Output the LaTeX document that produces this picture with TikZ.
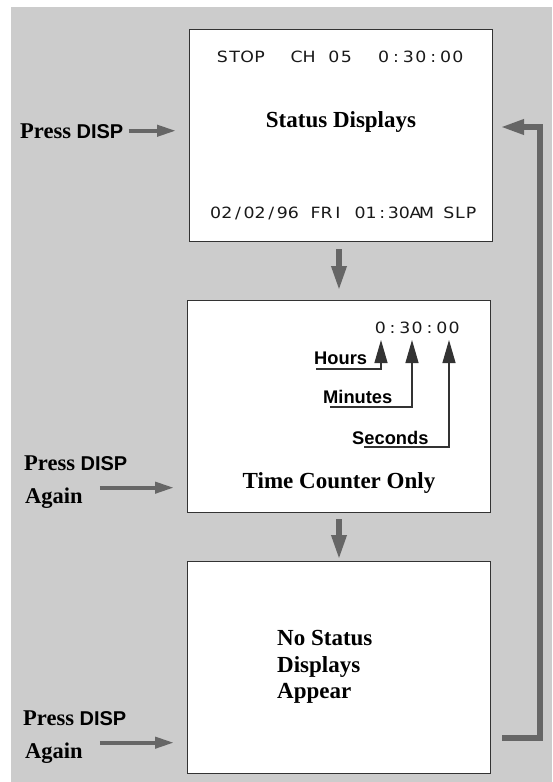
\documentclass[tikz,border=0pt]{standalone}
\usepackage{fontspec}
\usepackage{graphicx}
\setmainfont{Liberation Serif}
\newfontfamily\arialf{Liberation Sans}
\newfontfamily\monof{DejaVu Sans}
\usetikzlibrary{arrows.meta}
\definecolor{bgc}{HTML}{CCCCCC}
\definecolor{arrc}{HTML}{666666}
\definecolor{edgec}{HTML}{333333}
\newcommand\pitchline[2]{\def\mypitch{#1}\pitchlinei#2\relax}
\def\pitchlinei#1{\ifx\relax#1\else\makebox[\mypitch][c]{\scalebox{1.12}[1]{#1}}\expandafter\pitchlinei\fi}
\tikzset{
  screen/.style={draw=edgec, line width=1pt, fill=white, minimum width=303pt, minimum height=212pt, anchor=north west, inner sep=0},
  serifb/.style={font=\fontsize{23}{27}\selectfont\bfseries, inner sep=0},
  lab/.style={font=\fontsize{22.5}{27}\selectfont\bfseries, inner sep=0, anchor=base west},
  monotext/.style={font=\monof\fontsize{15.5}{18}\selectfont, text=black!90, inner sep=0, anchor=base west},
  tiny/.style={font=\arialf\fontsize{18.3}{22}\selectfont\bfseries, inner sep=0, anchor=base west},
  bigarrow/.style={draw=arrc, line width=6pt, -{Triangle[length=25pt,width=14pt]}},
  smallarrow/.style={draw=arrc, line width=4pt, -{Triangle[length=19pt,width=11pt]}},
  ptr/.style={draw=edgec, line width=1.2pt, -{Triangle[length=23pt,width=13pt]}},
}
\newcommand\disp{{\arialf\fontsize{20}{24}\selectfont DISP}}
\begin{document}
\begin{tikzpicture}[x=1pt,y=-1pt]
\useasboundingbox (0,0) rectangle (552,782);
\fill[bgc] (11,7) rectangle (552,782);
% screens
\node[screen] (b1) at (189,29) {};
\node[screen] (b2) at (187,300) {};
\node[screen] (b3) at (187,561) {};
% screen 1
\node[monotext] (m1) at (216,62) {\pitchline{12.4pt}{STOP~~CH~05~~0:30:00}};
\node[serifb, anchor=base] (t1) at (341,127) {Status Displays};
\node[monotext] (m2) at (210,218) {\pitchline{11.1pt}{02/02/96~FRI~01:30AM~SLP}};
% screen 2
\node[monotext] (m3) at (374,333) {\pitchline{12.3pt}{0:30:00}};
\coordinate (th) at (381,340);
\coordinate (tm) at (412,340);
\coordinate (ts) at (449,340);
\node[tiny] (hrs) at (314,364) {Hours};
\node[tiny] (mins) at (323,403) {Minutes};
\node[tiny] (secs) at (352,444) {Seconds};
\draw[ptr] ([xshift=2pt,yshift=-5pt]hrs.base west) -| (th);
\draw[ptr] ([xshift=7pt,yshift=-4pt]mins.base west) -| (tm);
\draw[ptr] ([xshift=12pt,yshift=-3pt]secs.base west) -| (ts);
\node[serifb, anchor=base] (t2) at (339,488) {Time Counter Only};
% screen 3
\node[serifb, anchor=base west] (t3a) at (277,645) {No Status};
\node[serifb, anchor=base west] (t3b) at (277,672) {Displays};
\node[serifb, anchor=base west] (t3c) at (277,698) {Appear};
% left labels
\node[lab] (p1) at (20,138) {Press \disp};
\node[lab] (p2a) at (24,470) {Press \disp};
\node[lab] (p2b) at (25,503) {Again};
\node[lab] (p3a) at (23,725) {Press \disp};
\node[lab] (p3b) at (25,758) {Again};
\draw[smallarrow, shorten >=13pt] ([xshift=5pt]p1.east) -- (b1.west |- p1.east);
\coordinate (a2) at ([xshift=17pt,yshift=10pt]p2b.east);
\draw[smallarrow, shorten >=13pt] (a2) -- (b2.west |- a2);
\coordinate (a3) at ([xshift=17pt,yshift=10pt]p3b.east);
\draw[smallarrow, shorten >=13pt] (a3) -- (b3.west |- a3);
% down arrows
\draw[bigarrow, shorten >=9pt] ([yshift=-7pt]b2.north |- b1.south) -- (b2.north);
\draw[bigarrow, shorten >=1pt] ([yshift=-6pt]b3.north |- b2.south) -- (b3.north);
% return loop
\coordinate (rs) at (502,737.5);
\coordinate (rc) at (540,127);
\coordinate (re) at (500,127);
\draw[bigarrow, line join=miter, -{Triangle[length=24pt,width=14pt]}] (rs) -| (rc) -- (re);
\end{tikzpicture}
\end{document}
